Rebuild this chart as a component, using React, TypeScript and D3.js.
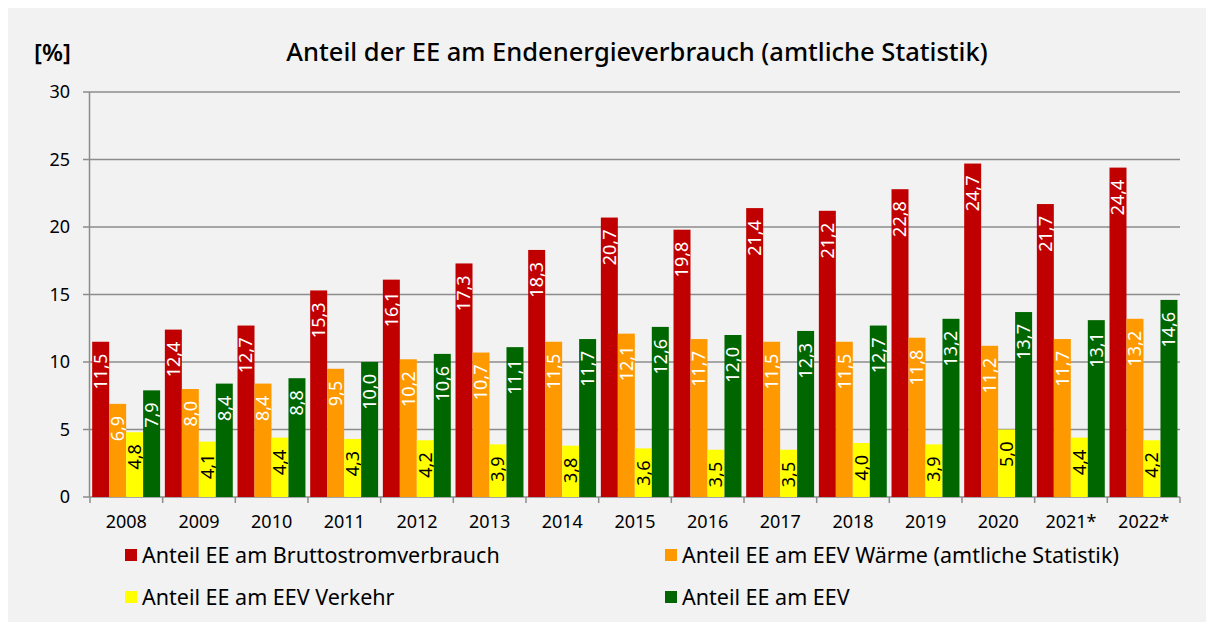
import React, { useEffect, useRef } from "react";
import * as d3 from "d3";

// Data
const years = ["2008", "2009", "2010", "2011", "2012", "2013", "2014", "2015", "2016", "2017", "2018", "2019", "2020", "2021*", "2022*"];
const strom = [11.5, 12.4, 12.7, 15.3, 16.1, 17.3, 18.3, 20.7, 19.8, 21.4, 21.2, 22.8, 24.7, 21.7, 24.4];
const waerme = [6.9, 8.0, 8.4, 9.5, 10.2, 10.7, 11.5, 12.1, 11.7, 11.5, 11.5, 11.8, 11.2, 11.7, 13.2];
const verkehr = [4.8, 4.1, 4.4, 4.3, 4.2, 3.9, 3.8, 3.6, 3.5, 3.5, 4.0, 3.9, 5.0, 4.4, 4.2];
const eev = [7.9, 8.4, 8.8, 10.0, 10.6, 11.1, 11.7, 12.6, 12.0, 12.3, 12.7, 13.2, 13.7, 13.1, 14.6];
const yTicks = [0, 5, 10, 15, 20, 25, 30];

const seriesNames = [
  "Anteil EE am Bruttostromverbrauch",
  "Anteil EE am EEV Wärme (amtliche Statistik)",
  "Anteil EE am EEV Verkehr",
  "Anteil EE am EEV",
];

const Chart = () => {
  const ref = useRef<SVGSVGElement>(null);

  useEffect(() => {
    const svg = d3.select(ref.current);
    svg.selectAll("*").remove();

    const width = 1214;
    const height = 630;
    const font = "'Noto Sans', 'Open Sans', sans-serif";
    const colors = ["#c00000", "#ff9900", "#ffff00", "#006600"];
    const textColors = ["#ffffff", "#ffffff", "#000000", "#ffffff"];
    const series = [strom, waerme, verkehr, eev];

    // background
    svg.append("rect").attr("width", width).attr("height", height).attr("fill", "#ffffff");
    svg.append("rect").attr("x", 4).attr("y", 3).attr("width", 1209).attr("height", 625).attr("fill", "#f2f2f2");

    const x = d3.scaleBand().domain(years).range([90, 1180]).padding(0);
    const inner = d3
      .scaleBand<number>()
      .domain([0, 1, 2, 3])
      .range([x.bandwidth() * 0.03, x.bandwidth() * 0.965]);
    const y = d3.scaleLinear().domain([0, 30]).range([497, 92]);

    // gridlines
    svg
      .selectAll(".grid")
      .data(yTicks)
      .enter()
      .append("line")
      .attr("x1", 83)
      .attr("x2", 1180)
      .attr("y1", (d) => y(d))
      .attr("y2", (d) => y(d))
      .attr("stroke", "#8c8c8c")
      .attr("stroke-width", 1.5);

    // y tick labels
    svg
      .selectAll(".ylab")
      .data(yTicks)
      .enter()
      .append("text")
      .attr("x", 70)
      .attr("y", (d) => y(d))
      .attr("dy", "0.35em")
      .attr("text-anchor", "end")
      .attr("font-family", font)
      .attr("font-size", 18)
      .attr("fill", "#000")
      .text((d) => d);

    // bars
    series.forEach((vals, si) => {
      const g = svg.append("g");
      g.selectAll("rect")
        .data(vals)
        .enter()
        .append("rect")
        .attr("x", (d, i) => (x(years[i]) as number) + (inner(si) as number))
        .attr("y", (d) => y(d))
        .attr("width", inner.bandwidth())
        .attr("height", (d) => y(0) - y(d))
        .attr("fill", colors[si]);

      g.selectAll("text")
        .data(vals)
        .enter()
        .append("text")
        .attr("transform", (d, i) => {
          const cx = (x(years[i]) as number) + (inner(si) as number) + inner.bandwidth() / 2;
          const ty = y(d) + 12;
          return `translate(${cx},${ty}) rotate(-90)`;
        })
        .attr("dy", "0.36em")
        .attr("text-anchor", "end")
        .attr("font-family", font)
        .attr("font-size", 18)
        .attr("fill", textColors[si])
        .text((d) => d.toFixed(1).replace(".", ","));
    });

    // axes lines
    svg
      .append("line")
      .attr("x1", 89.5)
      .attr("x2", 89.5)
      .attr("y1", y(30))
      .attr("y2", y(0))
      .attr("stroke", "#8c8c8c")
      .attr("stroke-width", 1.5);

    const bounds = years.map((c) => x(c) as number).concat([1180]);
    svg
      .selectAll(".xtick")
      .data(bounds)
      .enter()
      .append("line")
      .attr("x1", (d) => d)
      .attr("x2", (d) => d)
      .attr("y1", y(0))
      .attr("y2", y(0) + 6)
      .attr("stroke", "#8c8c8c")
      .attr("stroke-width", 1.5);

    // x labels
    svg
      .selectAll(".xlab")
      .data(years)
      .enter()
      .append("text")
      .attr("x", (d) => (x(d) as number) + x.bandwidth() / 2)
      .attr("y", 522)
      .attr("dy", "0.35em")
      .attr("text-anchor", "middle")
      .attr("font-family", font)
      .attr("font-size", 18)
      .attr("fill", "#000")
      .text((d) => d);

    // title and unit
    svg
      .append("text")
      .attr("x", 637)
      .attr("y", 61)
      .attr("text-anchor", "middle")
      .attr("font-family", font)
      .attr("font-size", 25.5)
      .attr("font-weight", 500)
      .attr("fill", "#000")
      .text("Anteil der EE am Endenergieverbrauch (amtliche Statistik)");

    svg
      .append("text")
      .attr("x", 34)
      .attr("y", 61)
      .attr("font-family", font)
      .attr("font-size", 24)
      .attr("font-weight", 600)
      .attr("fill", "#000")
      .text("[%]");

    // legend
    const legendPos = [
      [125, 549],
      [665, 549],
      [125, 591],
      [665, 591],
    ];
    seriesNames.forEach((name, i) => {
      const [lx, ly] = legendPos[i];
      svg.append("rect").attr("x", lx).attr("y", ly).attr("width", 12).attr("height", 12).attr("fill", colors[i]);
      svg
        .append("text")
        .attr("x", lx + 17)
        .attr("y", ly + 6)
        .attr("dy", "0.35em")
        .attr("font-family", font)
        .attr("font-size", 21.5)
        .attr("fill", "#000")
        .text(name);
    });
  }, []);

  return <svg ref={ref} width={1214} height={630} style={{ display: "block" }} />;
};

export default function App() {
  return (
    <div style={{ margin: -8 }}>
      <Chart />
    </div>
  );
}
